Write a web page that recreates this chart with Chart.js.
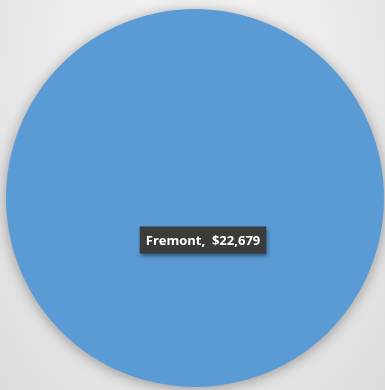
<!DOCTYPE html>
<html>
<head>
<meta charset="utf-8">
<script src="https://cdn.jsdelivr.net/npm/chart.js@4"></script>
<style>
  html, body { margin: 0; padding: 0; }
  body {
    width: 385px; height: 390px; overflow: hidden;
    background: radial-gradient(ellipse at 50% 20%, #f4f4f4 0%, #ececec 50%, #dcdcdc 100%);
  }
  #wrap { position: relative; width: 385px; height: 390px; }
</style>
</head>
<body>
<div id="wrap"><canvas id="pie" width="385" height="390"></canvas></div>
<script>
const categories = ['Fremont'];
const values = [22679];
const sliceColors = ['#5a9bd5'];

// soft drop shadow under the pie
const pieShadow = {
  id: 'pieShadow',
  beforeDatasetDraw(chart) {
    const ctx = chart.ctx;
    ctx.save();
    ctx.shadowColor = 'rgba(0,0,0,0.35)';
    ctx.shadowBlur = 14;
    ctx.shadowOffsetX = 0;
    ctx.shadowOffsetY = 2;
  },
  afterDatasetDraw(chart) {
    chart.ctx.restore();
  }
};

// Excel-style data label: dark box, white bold text
const sliceLabels = {
  id: 'sliceLabels',
  afterDatasetsDraw(chart) {
    const ctx = chart.ctx;
    const meta = chart.getDatasetMeta(0);
    meta.data.forEach((arc, i) => {
      const text = categories[i] + ',  $' + values[i].toLocaleString('en-US');
      ctx.save();
      ctx.font = 'bold 13px "Open Sans", "Liberation Sans", sans-serif';
      const w = ctx.measureText(text).width + 12;
      const h = 27;
      const cx = arc.x + 8;
      const cy = arc.y + 42;
      ctx.shadowColor = 'rgba(0,0,0,0.45)';
      ctx.shadowBlur = 4;
      ctx.shadowOffsetX = 1;
      ctx.shadowOffsetY = 2;
      ctx.fillStyle = '#3b3b3b';
      ctx.fillRect(cx - w / 2, cy - h / 2, w, h);
      ctx.shadowColor = 'transparent';
      ctx.fillStyle = '#ffffff';
      ctx.textAlign = 'center';
      ctx.textBaseline = 'middle';
      ctx.fillText(text, cx, cy + 1);
      ctx.restore();
    });
  }
};

new Chart('pie', {
  type: 'pie',
  data: {
    labels: categories,
    datasets: [{
      data: values,
      backgroundColor: sliceColors,
      borderWidth: 0
    }]
  },
  options: {
    responsive: false,
    animation: false,
    layout: { padding: { left: 6, right: 1, top: 9, bottom: 3 } },
    plugins: {
      legend: { display: false },
      tooltip: { enabled: false }
    }
  },
  plugins: [pieShadow, sliceLabels]
});
</script>
</body>
</html>
